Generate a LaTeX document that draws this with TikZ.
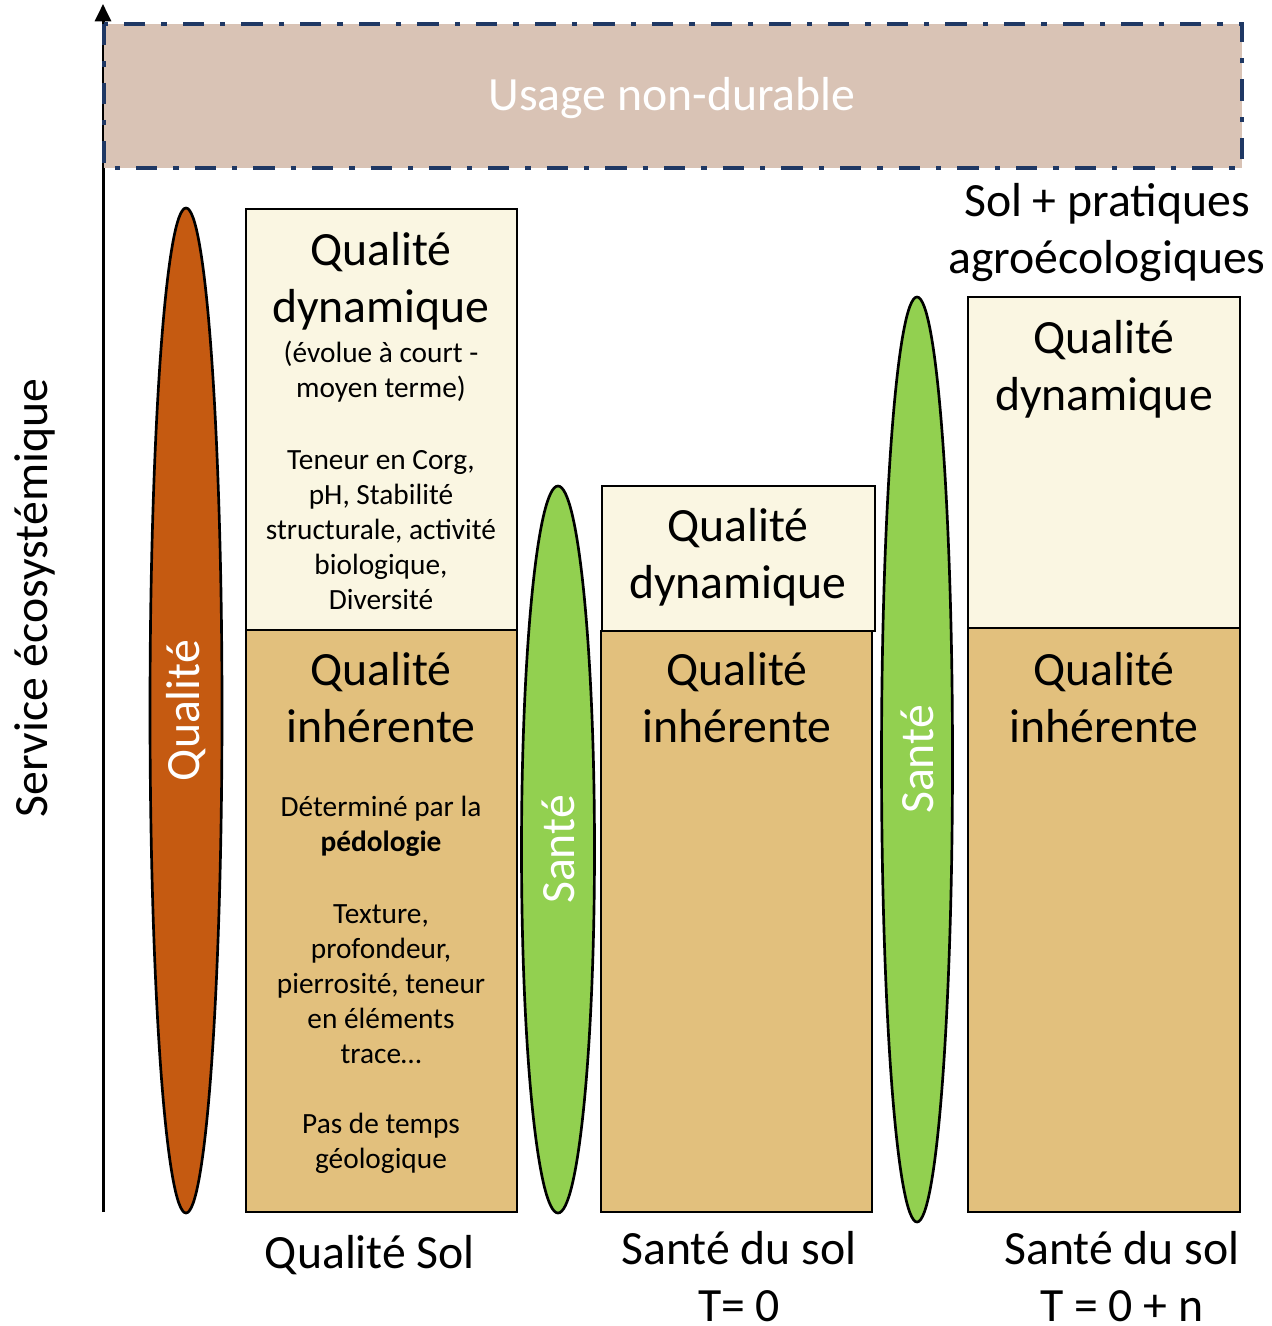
\documentclass[tikz,border=0pt]{standalone}
\usepackage{fontspec}
\setmainfont{Carlito}
\usetikzlibrary{arrows.meta,shapes.geometric}
\definecolor{usagefill}{RGB}{217,195,181}
\definecolor{navy}{RGB}{31,56,100}
\definecolor{dynfill}{RGB}{250,246,226}
\definecolor{inhfill}{RGB}{226,192,125}
\definecolor{qualfill}{RGB}{197,90,17}
\definecolor{santefill}{RGB}{146,208,80}

\begin{document}
\begin{tikzpicture}
  [x=0.75pt,y=-0.75pt,
   big/.style={font=\fontsize{35.8}{42.75}\selectfont,align=center,inner sep=0},
   small/.style={font=\fontsize{22}{26.3}\selectfont,align=center,inner sep=0},
   dynbox/.style={fill=dynfill,draw=black,line width=1.5pt},
   inhbox/.style={fill=inhfill,draw=black,line width=1.5pt},
   oval/.style={ellipse,draw=black,line width=2pt,inner sep=0,rotate=90,
                text=white,font=\fontsize{35.8}{42}\selectfont}]
  \useasboundingbox (0,0) rectangle (1271,1326);

  % axe
  \coordinate (bas) at (103,1212);
  \coordinate (haut) at (103,4);
  \draw[line width=2.25pt,-{Triangle[length=13pt,width=12pt]}] (bas) -- (haut);
  \node[big,rotate=90] (service) at (35,598) {Service écosystémique};

  % bandeau
  \draw[fill=usagefill,draw=navy,line width=3pt,
        dash pattern=on 16pt off 12pt on 4pt off 12pt] (104,24) rectangle (1242,168);
  \node[big,text=white] (usage) at (672,98) {Usage non-durable};

  % colonnes
  \draw[dynbox] (246,209) rectangle (517,630);
  \draw[dynbox] (602,486) rectangle (875,631);
  \draw[dynbox] (968,297) rectangle (1240,628);
  \foreach \xa/\xb/\ya in {246/517/630, 601/872/631, 968/1240/628}
    \draw[inhbox] (\xa,\ya) rectangle (\xb,1212);

  % ellipses
  \node[oval,fill=qualfill,minimum width=753.75pt,minimum height=54pt] (qual) at (186,710.5) {Qualité};
  \node[oval,fill=santefill,minimum width=545.25pt,minimum height=54.75pt] (sante1) at (558,849.5) {Santé};
  \node[oval,fill=santefill,minimum width=693.75pt,minimum height=53.25pt] (sante2) at (917,759.5) {Santé};

  % textes
  \node[big] (dyn1) at (381,281) {Qualité\\dynamique};
  \node[small] (evol) at (381,372) {(évolue à court -\\moyen terme)};
  \node[small] (teneur) at (381,530) {Teneur en Corg,\\pH, Stabilité\\structurale, activité\\biologique,\\Diversité};
  \node[big] (dyn2) at (738,557) {Qualité\\dynamique};
  \node[big] (dyn3) at (1104,369) {Qualité\\dynamique};
  \foreach \x/\n in {381/inh1, 737/inh2, 1104/inh3}
    \node[big] (\n) at (\x,698) {Qualité\\inhérente};
  \node[small] (pedo) at (381,826) {Déterminé par la\\\textbf{pédologie}};
  \node[small] (texture) at (381,984) {Texture,\\profondeur,\\pierrosité, teneur\\en éléments\\trace…};
  \node[small] (temps) at (381,1143) {Pas de temps\\géologique};

  \node[big] (pratiques) at (1107,233) {Sol + pratiques\\agroécologiques};
  \node[big] (qsol) at (370,1255) {Qualité Sol};
  \node[big] (t0) at (739,1277) {Santé du sol\\T= 0};
  \node[big] (tn) at (1122,1277) {Santé du sol\\T = 0 + n};
\end{tikzpicture}
\end{document}
